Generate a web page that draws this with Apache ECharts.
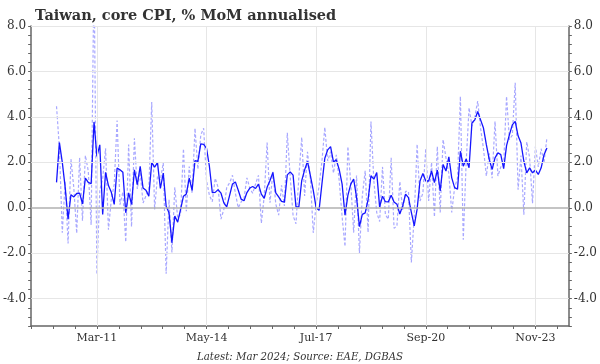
<!DOCTYPE html>
<html>
<head>
<meta charset="utf-8">
<script src="https://cdn.jsdelivr.net/npm/echarts@6/dist/echarts.min.js"></script>
<style>html,body{margin:0;padding:0;background:#fff}#c{width:600px;height:364px}</style>
</head>
<body>
<div id="c"></div>
<script>
// Monthly data Jan-2010 .. Mar-2024
const startYear = 2010, startMonth = 1;
// 3-month average (solid)
const avg3m = [1.12,2.87,2.0,0.9,-0.5,0.58,0.48,0.63,0.65,0.17,1.31,1.12,1.06,3.78,2.26,2.77,-0.29,1.56,0.98,0.68,
0.15,1.75,1.67,1.56,-0.22,0.66,0.15,1.67,1.02,1.82,0.87,0.77,0.51,1.99,1.79,1.99,0.85,1.53,0.07,-0.22,
-1.53,-0.36,-0.63,-0.07,0.51,0.61,1.31,0.77,2.08,2.04,2.81,2.79,2.62,1.82,0.67,0.68,0.8,0.65,0.22,0.04,
0.55,1.05,1.14,0.77,0.38,0.31,0.67,0.87,0.94,0.85,1.04,0.6,0.42,0.9,1.2,1.56,0.66,0.48,0.28,0.25,
1.45,1.58,1.44,0.05,0.04,1.2,1.67,2.04,1.42,0.77,0.0,-0.11,1.05,2.18,2.55,2.69,2.02,2.11,1.68,1.04,
-0.32,0.55,1.04,1.26,0.47,-0.83,-0.29,-0.22,0.36,1.41,1.26,1.55,0.04,0.51,0.27,0.26,0.55,0.26,0.16,-0.27,
0.09,0.6,0.45,-0.2,-0.79,-0.06,1.18,1.51,1.18,1.18,1.62,1.11,1.66,0.74,1.91,1.62,2.24,1.32,0.89,0.82,
2.49,1.83,2.15,1.76,3.73,3.87,4.24,3.87,3.51,2.78,2.13,1.69,2.2,2.42,2.34,1.72,2.74,3.22,3.65,3.8,
3.17,2.85,2.05,1.54,1.76,1.54,1.66,1.47,1.76,2.34,2.63];
// monthly (dashed)
const monthly = [4.47,2.63,-1.1,1.17,-1.57,2.14,0.87,-1.12,2.2,-0.57,2.3,1.63,-0.75,10.5,-2.93,0.78,1.28,2.62,-0.96,0.38,
1.03,3.84,0.14,0.7,-1.5,2.78,-0.83,3.06,0.83,1.57,0.21,0.53,0.79,4.65,-0.07,1.39,1.23,1.97,-2.9,0.36,
-1.96,0.9,-0.45,-0.28,2.6,-0.15,1.82,0.64,3.5,1.7,3.2,3.5,1.19,0.55,0.27,1.3,0.91,-0.5,-0.07,0.9,
1.1,1.43,0.64,0.0,0.26,0.43,1.32,0.86,0.64,1.05,1.43,-0.68,0.51,2.87,0.22,1.59,0.17,-0.32,0.99,0.08,
3.3,1.38,-0.34,-0.7,1.35,3.1,0.52,2.46,1.28,-1.1,0.15,0.95,2.05,3.54,2.06,2.47,1.53,2.33,1.18,-0.39,
-1.7,2.7,1.08,-1.09,1.42,-2.0,0.53,1.63,-1.08,3.8,1.18,-0.21,-0.6,1.8,-0.3,-0.5,2.2,-0.9,-0.8,1.16,
-0.09,0.73,0.71,-2.4,-0.35,2.8,0.3,0.64,2.6,0.3,2.0,-0.4,2.7,-0.2,3.0,2.2,1.5,-0.2,0.9,1.3,
4.9,-1.4,2.0,4.4,3.6,4.0,4.7,3.5,2.6,1.4,2.4,1.3,3.8,1.4,1.8,1.9,4.9,3.0,3.2,5.5,
0.8,2.3,-0.3,2.9,2.2,0.2,2.7,1.8,2.6,2.0,3.1];
const xTickLabels = ['Mar-11','May-14','Jul-17','Sep-20','Nov-23'];
const yTickLabels = [-4, -2, 0, 2, 4, 6, 8];

// x is measured in months from the left edge of the axis (Apr-2009 + 0.2)
const axisOrigin = 2009*12 + 3 + 0.2;
const majorStep = 38, minorStep = 7.6, firstMajor = 2011*12 + 2 - axisOrigin;
function xOf(i){ return (startYear*12 + startMonth - 1 + i) - axisOrigin; }
const solidData = avg3m.map((v,i)=>[xOf(i), v]);
const dashData = monthly.map((v,i)=>[xOf(i), v]);
const majorX = xTickLabels.map((_,k)=>firstMajor + k*majorStep);

const chart = echarts.init(document.getElementById('c'), null, {renderer:'canvas'});
const serif = 'DejaVu Serif';
const axisCol = '#666';
function yAxisDef(pos){
  return {
    type:'value', position:pos, min:-5.2, max:8, interval:0.4,
    axisLine:{show:true, lineStyle:{color:axisCol, width:1.5}},
    axisTick:{show:true, inside:false, length:3, lineStyle:{color:axisCol, width:1}},
    splitLine:{show:false},
    axisLabel:{
      margin:5, fontFamily:serif, fontSize:12, color:'#333',
      formatter:function(v){
        const r = Math.round(v);
        if (Math.abs(v-r) < 1e-6 && yTickLabels.indexOf(r) >= 0) return r.toFixed(1);
        return '';
      }
    }
  };
}
chart.setOption({
  animation:false,
  title:[
    {text:'Taiwan, core CPI, % MoM annualised', left:30, top:4,
     textStyle:{fontFamily:serif, fontWeight:'bold', fontSize:14.5, color:'#333'}},
    {text:'Latest: Mar 2024; Source: EAE, DGBAS', left:'center', top:347,
     textStyle:{fontFamily:serif, fontStyle:'italic', fontWeight:'normal', fontSize:10.2, color:'#333'}}
  ],
  grid:{left:31, right:31, top:26, bottom:38, containLabel:false},
  xAxis:{
    type:'value', min:0, max:186.4, interval:minorStep,
    axisLine:{show:true, onZero:false, lineStyle:{color:axisCol, width:1.5}},
    axisTick:{show:true, length:3, lineStyle:{color:axisCol, width:1}},
    splitLine:{show:false},
    axisLabel:{
      margin:7, fontFamily:serif, fontSize:11, color:'#333', showMinLabel:true, showMaxLabel:false,
      formatter:function(v){
        const k = (v - firstMajor)/majorStep;
        const r = Math.round(k);
        if (Math.abs(k-r) < 1e-4 && r >= 0 && r < xTickLabels.length) return xTickLabels[r];
        return '';
      }
    }
  },
  yAxis:[yAxisDef('left'), yAxisDef('right')],
  series:[
    {type:'line', data:[], silent:true, z:1,
     markLine:{silent:true, symbol:'none', label:{show:false},
       lineStyle:{color:'#e6e6e6', type:'solid', width:1},
       data: majorX.map(x=>({xAxis:x})).concat(yTickLabels.filter(v=>v!==0).map(v=>({yAxis:v})))
     }},
    {type:'line', data:[], silent:true, z:2,
     markLine:{silent:true, symbol:'none', label:{show:false},
       lineStyle:{color:'#b0b0b0', type:'solid', width:1.5},
       data:[{yAxis:0}]}},
    {name:'monthly', type:'line', data:dashData, showSymbol:false, z:3,
     lineStyle:{color:'rgba(110,110,255,0.6)', width:1.2, type:[3,2]}},
    {name:'3m avg', type:'line', data:solidData, showSymbol:false, z:4,
     lineStyle:{color:'#1515ff', width:1.3}}
  ]
});
</script>
</body>
</html>
